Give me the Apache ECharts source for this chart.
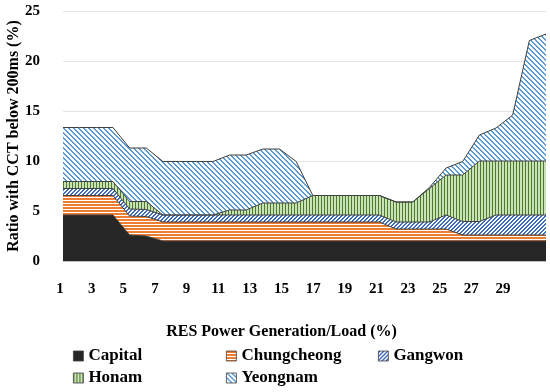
<!DOCTYPE html>
<html><head><meta charset="utf-8">
<script src="https://cdn.jsdelivr.net/npm/echarts@6/dist/echarts.min.js"></script>
<style>html,body{margin:0;padding:0;background:#fff}#c{width:550px;height:392px}</style>
</head><body><div id="c"></div>
<script>
const categories = ['1','2','3','4','5','6','7','8','9','10','11','12','13','14','15','16','17','18','19','20','21','22','23','24','25','26','27','28','29','30'];
const tickLabels = ['1','3','5','7','9','11','13','15','17','19','21','23','25','27','29'];
const seriesNames = ['Capital','Chungcheong','Gangwon','Honam','Yeongnam'];
const capital     = [4.6,4.6,4.6,4.6,2.6,2.5,2.0,2.0,2.0,2.0,2.0,2.0,2.0,2.0,2.0,2.0,2.0,2.0,2.0,2.0,2.0,2.0,2.0,2.0,2.0,2.0,2.0,2.0,2.0,2.0];
const chungcheong = [1.95,1.95,1.95,1.95,1.9,1.95,1.9,1.9,1.9,1.9,1.9,1.9,1.9,1.9,1.9,1.9,1.9,1.9,1.9,1.9,1.2,1.2,1.2,1.2,0.6,0.6,0.6,0.6,0.6,0.6];
const gangwon     = [0.7,0.7,0.7,0.7,0.7,0.7,0.7,0.7,0.7,0.7,0.7,0.7,0.7,0.7,0.7,0.7,0.7,0.7,0.7,0.7,0.7,0.7,0.7,1.4,1.35,1.35,2.0,2.0,2.0,2.0];
const honam       = [0.7,0.7,0.7,0.7,0.75,0.8,0,0,0,0,0.5,0.5,1.2,1.2,1.2,1.95,1.95,1.95,1.95,1.95,2.0,2.0,3.35,4.0,4.65,6.05,5.4,5.4,5.4,5.4];
const yeongnam    = [5.4,5.4,5.4,5.4,5.35,5.35,5.35,5.35,5.35,5.35,5.5,5.5,5.4,5.4,4.15,0,0,0,0,0,0,0,0.1,0.7,1.35,2.6,3.3,4.6,12.05,12.7];
const xTitle = 'RES Power Generation/Load (%)';
const yTitle = 'Ratio with CCT below 200ms (%)';

function tile(w, h, fn) {
  const c = document.createElement('canvas');
  c.width = w; c.height = h;
  const ctx = c.getContext('2d');
  for (let y = 0; y < h; y++) for (let x = 0; x < w; x++) {
    ctx.fillStyle = fn(x, y);
    ctx.fillRect(x, y, 1, 1);
  }
  return {image: c, repeat: 'repeat'};
}
const patterns = [
  '#262626',
  tile(3, 3, (x, y) => (y % 3 < 2 ? '#ED7D31' : '#ffffff')),
  tile(4, 4, (x, y) => (((x + y) % 4) < 2 ? '#3F6DC0' : '#ffffff')),
  tile(3, 3, (x, y) => (x % 3 === 0 ? '#4E7A2E' : '#C9E2B8')),
  tile(5, 5, (x, y) => ((((x - y) % 5) + 5) % 5 < 2 ? '#5B9BD5' : '#ffffff'))
];
const values = [capital, chungcheong, gangwon, honam, yeongnam];
const FONT = '"Liberation Serif", "DejaVu Serif", serif';

const series = seriesNames.map((n, i) => ({
  name: n, type: 'line', stack: 'total', xAxisIndex: 0, yAxisIndex: 0,
  data: values[i], symbol: 'none', showSymbol: false,
  lineStyle: {color: '#404040', width: 1},
  itemStyle: {color: patterns[i]},
  areaStyle: {color: patterns[i], opacity: 1},
  emphasis: {disabled: true}
}));

const legendPos = [[73, 346], [226, 346], [378, 346], [73, 368], [226, 368]];
const legends = seriesNames.map((n, i) => ({
  data: [{name: n, icon: 'rect', itemStyle: {color: patterns[i], borderColor: '#404040', borderWidth: 0.8}}],
  left: legendPos[i][0], top: legendPos[i][1],
  itemWidth: 10, itemHeight: 10, padding: 0, selectedMode: false,
  textStyle: {fontFamily: FONT, fontWeight: 'bold', fontSize: 17, color: '#000', lineHeight: 20}
}));

const chart = echarts.init(document.getElementById('c'), null, {renderer: 'canvas'});
chart.setOption({
  animation: false,
  backgroundColor: '#fff',
  legend: legends,
  grid: [
    {left: 63, right: 4, top: 11, bottom: 131, containLabel: false, outerBoundsMode: 'none'},
    {left: 60, right: 47, top: 11, bottom: 131, containLabel: false, outerBoundsMode: 'none'}
  ],
  xAxis: [
    {type: 'category', data: categories, boundaryGap: false, gridIndex: 0,
     axisLine: {lineStyle: {color: '#bfbfbf', width: 1}}, axisTick: {show: false}, axisLabel: {show: false}},
    {type: 'category', data: tickLabels, boundaryGap: false, gridIndex: 1,
     axisLine: {show: false}, axisTick: {show: false},
     axisLabel: {interval: 0, margin: 21, fontFamily: FONT, fontWeight: 'bold', fontSize: 15, color: '#000'},
     name: xTitle, nameLocation: 'middle', nameGap: 63, nameMoveOverlap: false,
     nameTextStyle: {fontFamily: FONT, fontWeight: 'bold', fontSize: 16, color: '#000'}}
  ],
  yAxis: [
    {type: 'value', min: 0, max: 25, interval: 5, gridIndex: 0,
     axisLine: {show: false}, axisTick: {show: false},
     splitLine: {lineStyle: {color: '#e3e3e3', width: 1}},
     axisLabel: {margin: 23, fontFamily: FONT, fontWeight: 'bold', fontSize: 15, color: '#000'},
     name: yTitle, nameLocation: 'middle', nameGap: 41, nameRotate: 90, nameMoveOverlap: false,
     nameTextStyle: {fontFamily: FONT, fontWeight: 'bold', fontSize: 16, color: '#000'}},
    {type: 'value', gridIndex: 1, show: false}
  ],
  series: series
});
</script></body></html>
